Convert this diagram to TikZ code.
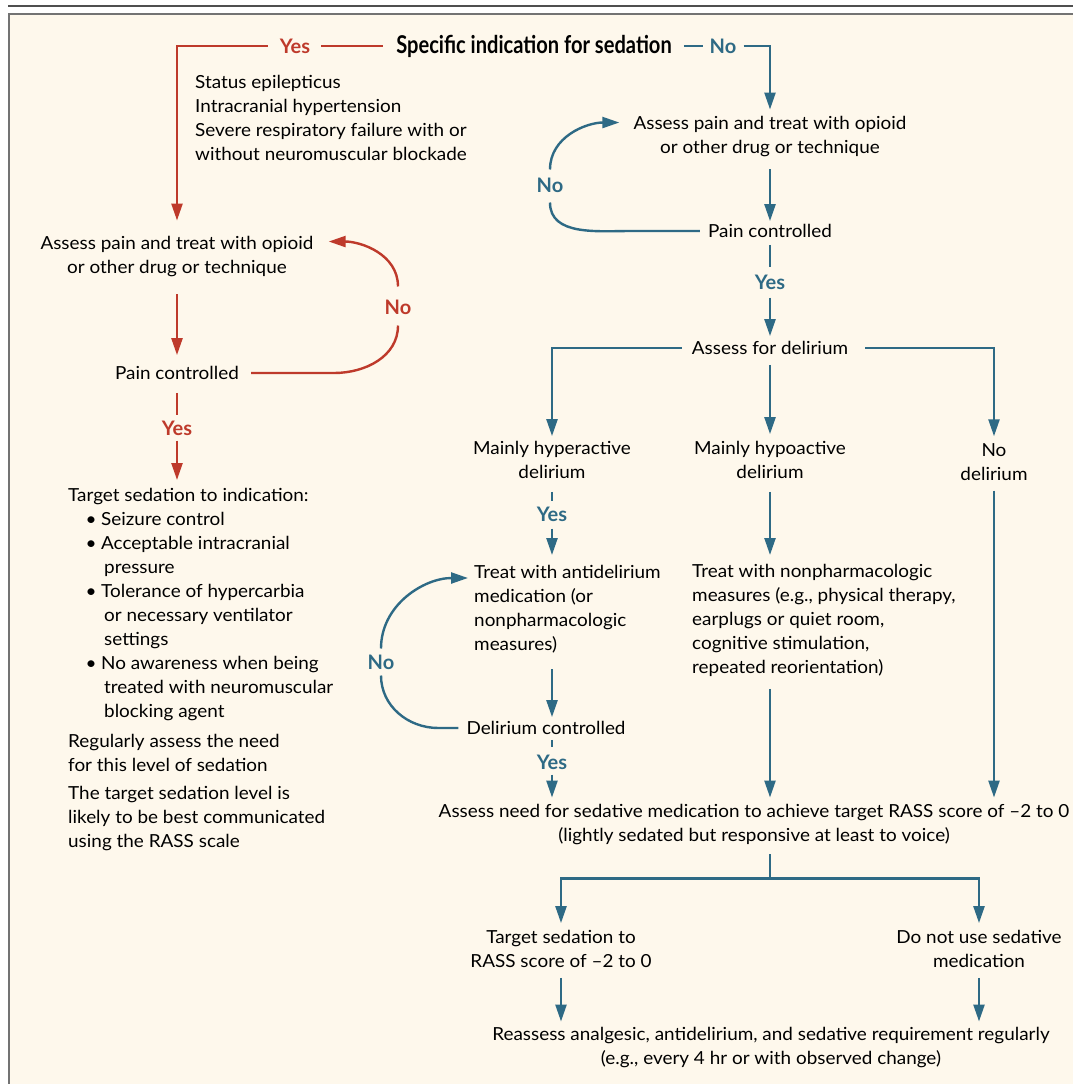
\documentclass[tikz,border=0pt]{standalone}
\usepackage{fontspec}
\setmainfont{Lato}[FakeStretch=1.05]
\newfontfamily\titlefont{Lato}[FakeStretch=0.82]
\newfontfamily\labfont{Lato}[FakeStretch=1.0]
\usetikzlibrary{arrows.meta,calc}
\definecolor{nred}{HTML}{BE3A2B}
\definecolor{nblue}{HTML}{2E6A85}
\definecolor{cream}{HTML}{FEF8EC}
\definecolor{frameA}{HTML}{4F4F4F}
\definecolor{frameB}{HTML}{737373}
\newcommand\mybul{\hspace*{18pt}\makebox[10pt][c]{•}\hspace*{5pt}}
\newcommand\myind{\hspace*{36pt}}
\begin{document}
\begin{tikzpicture}[x=1pt,y=-1pt,
 body/.style={inner sep=0pt, font=\fontsize{18}{24}\selectfont, align=center},
 lbody/.style={body, align=left},
 lab/.style={inner sep=0pt, font=\fontsize{20}{22}\labfont\bfseries},
 rlab/.style={lab, text=nred},
 blab/.style={lab, text=nblue},
 rl/.style={draw=nred, line width=2.4pt},
 bl/.style={draw=nblue, line width=2.4pt},
 tip/.style={-{Triangle[length=17pt,width=11pt]}}]
\useasboundingbox (0,0) rectangle (1073,1084);
% frame
\fill[cream] (9,14) rectangle (1073,1084);
\draw[frameA, line width=2pt] (8,6) -- (1073,6);
\draw[frameB, line width=2pt] (8,14) -- (1073,14);
\draw[frameB, line width=2pt] (9,14) -- (9,1084);

% ---------- nodes ----------
\node[inner sep=0pt, font=\fontsize{24.5}{26}\titlefont\bfseries] (spec) at (534,46) {Specific indication for sedation};
\node[rlab] (yesT) at (295,46) {Yes};
\node[blab] (noT) at (723,46) {No};

% left branch
\node[lbody, anchor=west] (ind) at (195,118) {Status epilepticus\\Intracranial hypertension\\Severe respiratory failure with or\\without neuromuscular blockade};
\node[body] (pain1) at (177,257) {Assess pain and treat with opioid\\or other drug or technique};
\node[body] (pc1) at (177,373) {Pain controlled};
\node[rlab] (noL) at (398,307) {No};
\node[rlab] (yesL) at (177,428) {Yes};
\node[lbody, anchor=north west] (tgt) at (68,488) {Target sedation to indication:\\
\mybul Seizure control\\
\mybul Acceptable intracranial\\
\myind pressure\\
\mybul Tolerance of hypercarbia\\
\myind or necessary ventilator\\
\myind settings\\
\mybul No awareness when being\\
\myind treated with neuromuscular\\
\myind blocking agent};
\node[lbody, anchor=north west] (reg) at (68,734) {Regularly assess the need\\for this level of sedation};
\node[lbody, anchor=north west] (rass) at (68,786) {The target sedation level is\\likely to be best communicated\\using the RASS scale};

% right branch
\node[body] (pain2) at (770,137) {Assess pain and treat with opioid\\or other drug or technique};
\node[body] (pc2) at (770,231) {Pain controlled};
\node[blab] (noP2) at (550,185) {No};
\node[blab] (yesR) at (770,282) {Yes};
\node[body] (dl) at (770,348) {Assess for delirium};
\node[body] (hyper) at (552,460) {Mainly hyperactive\\delirium};
\node[body] (hypo) at (770,460) {Mainly hypoactive\\delirium};
\node[body] (nod) at (994,462) {No\\delirium};
\node[blab] (yesH) at (552,514) {Yes};
\node[lbody, anchor=north west] (trt) at (474,565) {Treat with antidelirium\\medication (or\\nonpharmacologic\\measures)};
\node[body] (dc) at (546,728) {Delirium controlled};
\node[blab] (noD) at (381,662) {No};
\node[blab] (yesD) at (552,762) {Yes};
\node[lbody, anchor=north west] (trt2) at (692,564) {Treat with nonpharmacologic\\measures (e.g., physical therapy,\\earplugs or quiet room,\\cognitive stimulation,\\repeated reorientation)};
\node[body] (need) at (754,825) {Assess need for sedative medication to achieve target RASS score of –2 to 0\\(lightly sedated but responsive at least to voice)};
\node[body] (ts) at (561,949) {Target sedation to\\RASS score of –2 to 0};
\node[body] (dn) at (979,949) {Do not use sedative\\medication};
\node[body] (reas) at (771,1047) {Reassess analgesic, antidelirium, and sedative requirement regularly\\(e.g., every 4 hr or with observed change)};

% ---------- connectors: red ----------
\draw[rl, shorten <=11pt, shorten >=13pt] (yesT.east) -- (yesT -| spec.west);
\draw[rl, tip, shorten <=12pt, shorten >=16pt] (yesT.west) -| (pain1.north);
\draw[rl, tip, shorten <=17pt, shorten >=11pt] (pain1.south) -- (pc1.north);
\draw[rl, shorten <=13pt, shorten >=5pt] (pc1.south) -- (yesL.north);
\draw[rl, tip, shorten <=5pt, shorten >=8pt] (yesL.south) -- (yesL.south |- tgt.north);
\draw[rl, shorten <=12pt] (pc1.east) -- ++(95,0) to[out=0,in=-90] ($(noL.south)+(0,11)$);
\draw[rl, tip] ($(noL.north)+(0,-13)$) to[out=90,in=0] ($(pain1.north east)+(15,5)$);

% ---------- connectors: blue ----------
\draw[bl, shorten <=12pt, shorten >=7pt] (noT -| spec.east) -- (noT.west);
\draw[bl, tip, shorten <=7pt, shorten >=7pt] (noT.east) -| (pain2.north);
\draw[bl, tip, shorten <=12pt, shorten >=3pt] (pain2.south) -- (pc2.north);
\draw[bl, shorten <=7pt, shorten >=7pt] (pc2.south) -- (yesR.north);
\draw[bl, tip, shorten <=8pt, shorten >=5pt] (yesR.south) -- (dl.north);
\draw[bl, shorten <=8pt] (pc2.west) -- ++(-77,0) to[out=180,in=-90] ($(noP2.south)+(0,10)$);
\draw[bl, tip] ($(noP2.north)+(0,-8)$) to[out=90,in=180] ($(pain2.north west)+(-14,6)$);

\draw[bl, tip, shorten <=10pt, shorten >=5pt] (dl.west) -| (hyper.north);
\draw[bl, tip, shorten <=10pt, shorten >=7pt] (dl.south) -- (hypo.north);
\draw[bl, tip, shorten <=17pt, shorten >=7pt] (dl.east) -| (nod.north);

\draw[bl, shorten <=13pt, shorten >=5pt] (hyper.south) -- (yesH.north);
\draw[bl, tip, shorten <=7pt, shorten >=10pt] (yesH.south) -- (yesH.south |- trt.north);
\draw[bl, tip, shorten <=16pt, shorten >=4pt] (trt.south -| yesH) -- (dc.north -| yesH);
\draw[bl, shorten <=5pt, shorten >=7pt] (dc.south -| yesD) -- (yesD.north);
\draw[bl, tip, shorten <=5pt, shorten >=7pt] (yesD.south) -- (yesD.south |- need.north);
\draw[bl, shorten <=8pt] (dc.west) -- ++(-28,0) to[out=180,in=-90] ($(noD.south)+(0,6)$);
\draw[bl, tip] ($(noD.north)+(0,-6)$) to[out=90,in=180] ($(trt.north west)+(-6,13)$);

\draw[bl, tip, shorten <=13pt, shorten >=9pt] (hypo.south) -- (hypo.south |- trt2.north);
\draw[bl, tip, shorten <=12pt, shorten >=7pt] (trt2.south -| hypo) -- (need.north -| hypo);
\draw[bl, tip, shorten <=10pt, shorten >=7pt] (nod.south) -- (nod.south |- need.north);

\draw[bl, tip, shorten >=7pt] ($(need.south -| hypo)+(0,9)$) -- ++(0,24) -| (ts.north);
\draw[bl, tip, shorten >=7pt] ($(need.south -| hypo)+(0,9)$) -- ++(0,24) -| (dn.north);
\draw[bl, tip, shorten <=10pt, shorten >=5pt] (ts.south) -- (ts.south |- reas.north);
\draw[bl, tip, shorten <=10pt, shorten >=5pt] (dn.south) -- (dn.south |- reas.north);
\end{tikzpicture}
\end{document}
